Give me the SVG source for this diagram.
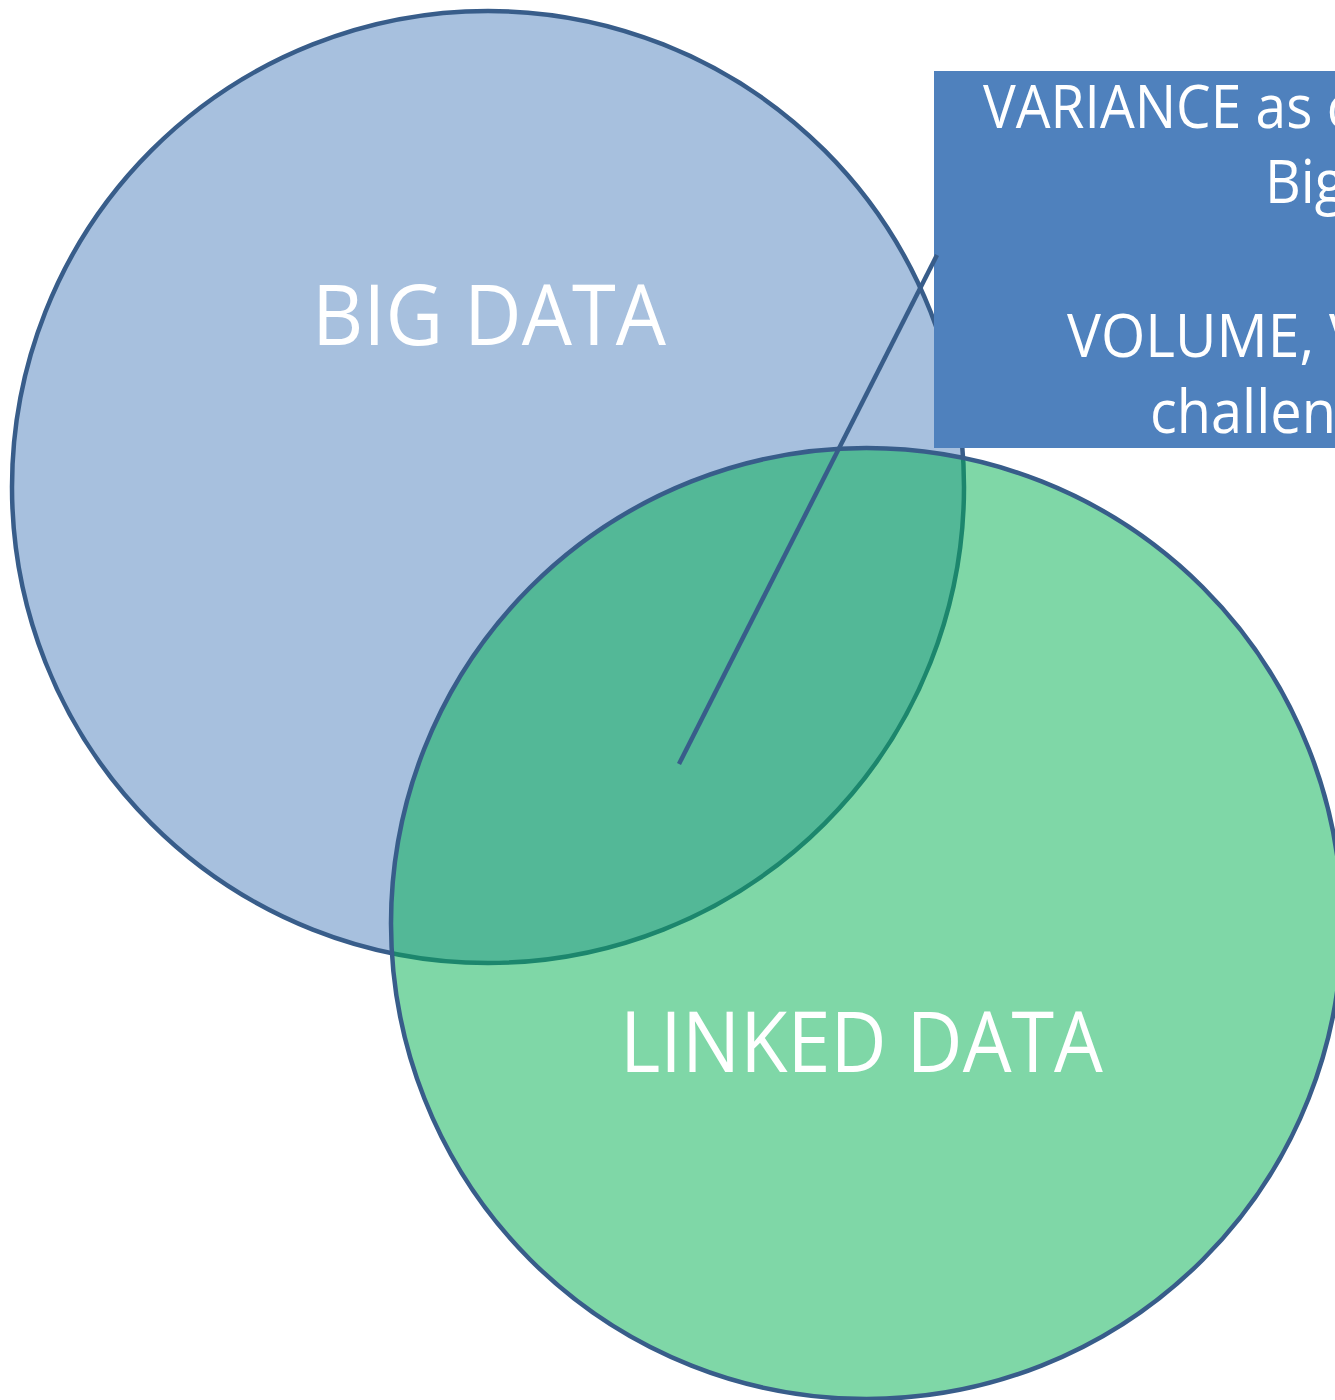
<svg xmlns="http://www.w3.org/2000/svg" width="1335" height="1400" viewBox="0 0 1335 1400">
  <style>
    .lbl { font-family: "Open Sans", "Liberation Sans", sans-serif; fill: #ffffff; }
    .big { font-size: 84px; }
    .box { font-size: 60px; }
    .outline { stroke: #385D8A; stroke-width: 4.5; }
  </style>
  <rect x="0" y="0" width="1335" height="1400" fill="#ffffff"/>
  <g id="big-data">
    <circle class="outline" cx="488" cy="487" r="476" fill="#4F81BD" fill-opacity="0.5"/>
    <text class="lbl big" x="312" y="345" textLength="354" lengthAdjust="spacingAndGlyphs">BIG DATA</text>
  </g>
  <g id="callout">
    <rect x="934" y="71" width="420" height="377" fill="#4F81BD"/>
    <text class="lbl box" x="983" y="128" textLength="370" lengthAdjust="spacingAndGlyphs">VARIANCE as c</text>
    <text class="lbl box" x="1265" y="203" textLength="80" lengthAdjust="spacingAndGlyphs">Big</text>
    <text class="lbl box" x="1067" y="357" textLength="296" lengthAdjust="spacingAndGlyphs">VOLUME, V</text>
    <text class="lbl box" x="1150" y="433" textLength="186" lengthAdjust="spacingAndGlyphs">challen</text>
  </g>
  <g id="linked-data">
    <circle class="outline" cx="866.5" cy="923.5" r="475.5" fill="#00B050" fill-opacity="0.5"/>
    <text class="lbl big" x="620" y="1072" textLength="483" lengthAdjust="spacingAndGlyphs">LINKED DATA</text>
  </g>
  <g id="connectors">
    <line x1="937" y1="255" x2="679" y2="764" stroke="#385D8A" stroke-width="4.5"/>
  </g>
</svg>
